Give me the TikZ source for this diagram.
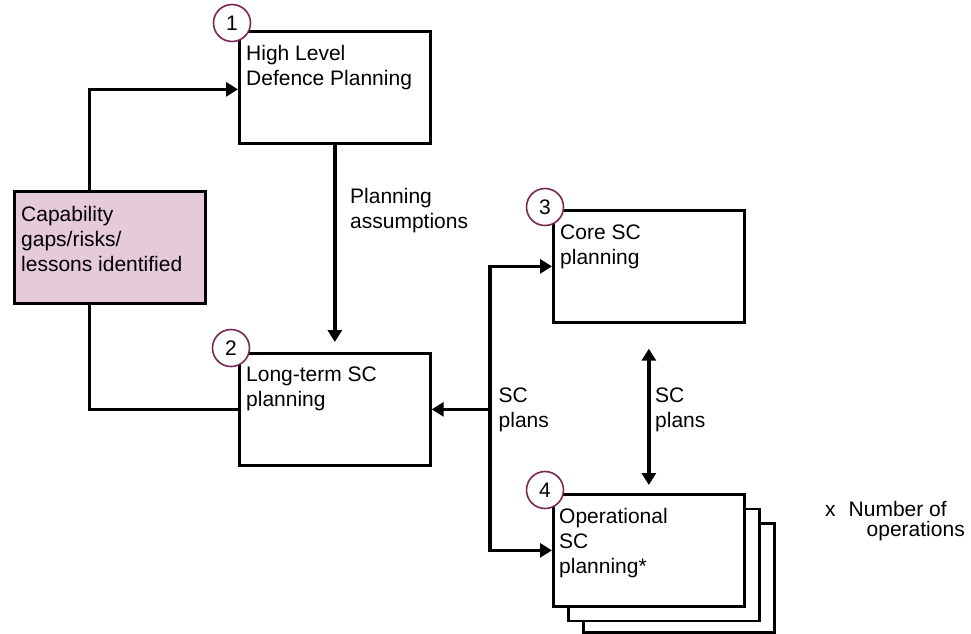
\documentclass[tikz,border=0pt]{standalone}
\usepackage{fontspec}
\setmainfont{Liberation Sans}
\usetikzlibrary{arrows.meta}
\definecolor{pinkfill}{RGB}{229,202,215}
\definecolor{circcol}{RGB}{120,40,85}
\begin{document}
\begin{tikzpicture}[x=1pt,y=-1pt,
  box/.style={draw, line width=2.7pt, fill=white, minimum width=191pt, minimum height=112pt, inner sep=0pt, anchor=north west},
  pinkbox/.style={box, fill=pinkfill},
  num/.style={circle, draw=circcol, line width=1.6pt, fill=white, minimum size=37pt, inner sep=0pt, font=\fontsize{21}{25}\selectfont},
  lbl/.style={anchor=north west, inner sep=0pt, align=left, font=\fontsize{21}{25}\selectfont},
  conn/.style={line width=3.6pt},
  arr/.style={conn, -{Triangle[length=12pt,width=14pt]}},
  dblarr/.style={conn, {Triangle[length=12pt,width=14pt]}-{Triangle[length=12pt,width=14pt]}}
]
\useasboundingbox (0,0) rectangle (971,633);

% boxes
\node[box] (b1) at (238,30) {};
\node[pinkbox] (pk) at (13,190) {};
\node[box] (b2) at (238,352) {};
\node[box] (b3) at (552,209) {};
\node[box, minimum height=109pt] (b4c) at (582,522) {};
\node[box] (b4b) at (567,507.5) {};
\node[box] (b4) at (552,493) {};

% box texts
\node[lbl] (t1) at ([shift={(8,15)}]b1.north west) {High Level\\Defence Planning};
\node[lbl] (tp) at ([shift={(8,16)}]pk.north west) {Capability\\gaps/risks/\\lessons identified};
\node[lbl] (t2) at ([shift={(8,15)}]b2.north west) {Long-term SC\\planning};
\node[lbl] (t3) at ([shift={(8,16)}]b3.north west) {Core SC\\planning};
\node[lbl] (t4) at ([shift={(7,15.5)}]b4.north west) {Operational\\SC\\planning*};

% number circles
\node[num] (c1) at (232,23) {1};
\node[num] (c2) at (231,348) {2};
\node[num] (c3) at (545,207) {3};
\node[num] (c4) at (545,490) {4};

% connectors
\draw[arr] ([xshift=-20.5pt]pk.north) |- ([yshift=-2pt]b1.west);
\draw[conn] ([xshift=-20.5pt]pk.south) |- (b2.west);

\coordinate (a2) at ([yshift=10pt]b2.north);
\draw[arr] (b1.south) -- (a2);

\coordinate (busx) at (490,0);
\coordinate (bus) at (b2.east -| busx);
\draw[arr] (bus) |- (b3.west);
\draw[arr] (bus) |- (b4.west);
\draw[arr] (bus) -- (b2.east);

\coordinate (d1) at ([yshift=-25pt]b3.south);
\coordinate (d2) at ([yshift=8pt]b4.north);
\draw[dblarr] (d1) -- (d2);

% connector labels
\node[lbl] (lpa) at (350,188) {Planning\\assumptions};
\node[lbl] (lsc1) at (498.5,388) {SC\\plans};
\node[lbl] (lsc2) at (655,388) {SC\\plans};
\node[lbl, font=\fontsize{21}{20}\selectfont] (lx) at (825,501.5) {x\hspace{13pt}Number of\\\hspace{41.5pt}operations};
\end{tikzpicture}
\end{document}
